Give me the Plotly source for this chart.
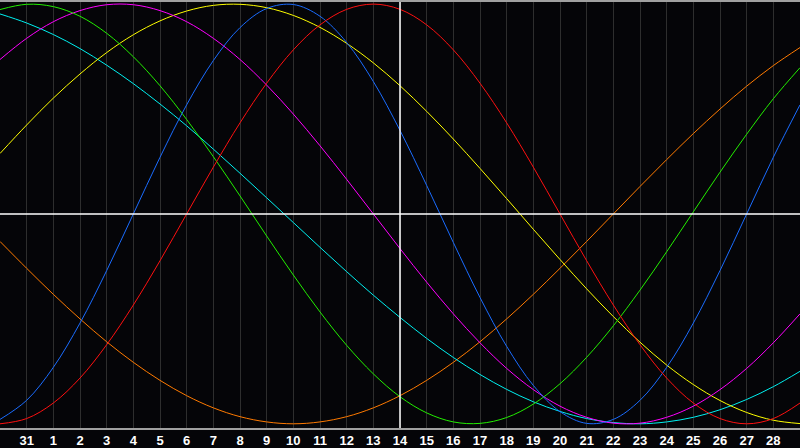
import plotly.graph_objects as go

# day slots across the chart (0 = left edge, 30 = right edge)
days = list(range(31))

# tick labels sit on grid lines 1..29
tick_pos = list(range(1, 30))
tick_labels = ["31"] + [str(d) for d in range(1, 29)]

# cycle values in percent, read per day off the picture
physical = [-97.9, -88.8, -73.1, -52.0, -27.0, 0, 27.0, 52.0, 73.1, 88.8, 97.9, 99.8, 94.2,
            81.7, 63.1, 39.8, 13.6, -13.6, -39.8, -63.1, -81.7, -94.2, -99.8, -97.9, -88.8,
            -73.1, -52.0, -27.0, 0, 27.0, 52.0]
emotional = [-100, -97.5, -90.1, -78.2, -62.3, -43.4, -22.3, 0, 22.3, 43.4, 62.3, 78.2, 90.1,
             97.5, 100, 97.5, 90.1, 78.2, 62.3, 43.4, 22.3, 0, -22.3, -43.4, -62.3, -78.2,
             -90.1, -97.5, -100, -97.5, -90.1]
intellectual = [97.4, 99.9, 98.8, 94.2, 86.1, 74.9, 61.1, 45.0, 27.3, 8.6, -10.5, -29.1, -46.7,
                -62.6, -76.2, -87.1, -94.8, -99.1, -99.8, -97.0, -90.6, -80.9, -68.3, -53.3,
                -36.3, -18.0, 1.0, 19.9, 38.0, 54.9, 69.7]
intuitive = [73.6, 83.7, 91.6, 96.9, 99.7, 99.7, 96.9, 91.6, 83.7, 73.6, 61.4, 47.6, 32.5, 16.5,
             0, -16.5, -32.5, -47.6, -61.4, -73.6, -83.7, -91.6, -96.9, -99.7, -99.7, -96.9,
             -91.6, -83.7, -73.6, -61.4, -47.6]
aesthetic = [28.8, 42.4, 55.2, 66.7, 76.9, 85.4, 92.0, 96.7, 99.4, 99.9, 98.3, 94.6, 88.9, 81.3,
             72.0, 61.1, 48.9, 35.7, 21.7, 7.3, -7.3, -21.7, -35.7, -48.9, -61.1, -72.0, -81.3,
             -88.9, -94.6, -98.3, -99.9]
awareness = [-13.1, -25.9, -38.3, -50.0, -60.9, -70.7, -79.3, -86.6, -92.4, -96.6, -99.1, -100,
             -99.1, -96.6, -92.4, -86.6, -79.3, -70.7, -60.9, -50.0, -38.3, -25.9, -13.1, 0,
             13.1, 25.9, 38.3, 50.0, 60.9, 70.7, 79.3]
spiritual = [95.3, 91.0, 85.5, 78.8, 70.9, 62.1, 52.4, 42.0, 30.9, 19.4, 7.7, -4.1, -15.9, -27.5,
             -38.7, -49.3, -59.3, -68.4, -76.5, -83.6, -89.5, -94.1, -97.5, -99.4, -100.0,
             -99.1, -96.9, -93.3, -88.4, -82.3, -75.0]

series = [
    ("awareness", awareness, "#ff7a00"),
    ("spiritual", spiritual, "#00f0f0"),
    ("aesthetic", aesthetic, "#ffff00"),
    ("intuitive", intuitive, "#ff00ff"),
    ("intellectual", intellectual, "#22ee00"),
    ("physical", physical, "#1a6cff"),
    ("emotional", emotional, "#ff1010"),
]

fig = go.Figure()
for name, vals, col in series:
    fig.add_trace(go.Scatter(
        x=days, y=vals, name=name, mode="lines",
        line=dict(color=col, width=1, shape="spline", smoothing=1.0),
        hoverinfo="skip",
    ))

# today marker and zero line
fig.add_shape(type="line", x0=15, x1=15, y0=-102, y1=101,
              line=dict(color="white", width=1.5))
fig.add_shape(type="line", x0=0, x1=30, y0=0, y1=0,
              line=dict(color="white", width=1.5))

fig.update_layout(
    width=800, height=448,
    margin=dict(l=0, r=0, t=0, b=20),
    paper_bgcolor="#050508",
    plot_bgcolor="#050508",
    showlegend=False,
    xaxis=dict(
        range=[0, 30], tickvals=tick_pos, ticktext=tick_labels,
        showgrid=True, gridcolor="#2e2e2e", gridwidth=1,
        zeroline=False, showline=True, linecolor="#a0a0a0", linewidth=1.5,
        mirror=True, ticks="", fixedrange=True,
        tickfont=dict(family="Liberation Sans", size=13, color="white", weight="bold"),
    ),
    yaxis=dict(
        range=[-102, 101], showgrid=False, zeroline=False,
        showline=True, linecolor="#a0a0a0", linewidth=1.5,
        showticklabels=False, ticks="", fixedrange=True,
    ),
)

fig.write_html("out.html", config={"displayModeBar": False},
               post_script="document.body.style.margin='0px';"
                           "document.body.style.background='#050508';")
